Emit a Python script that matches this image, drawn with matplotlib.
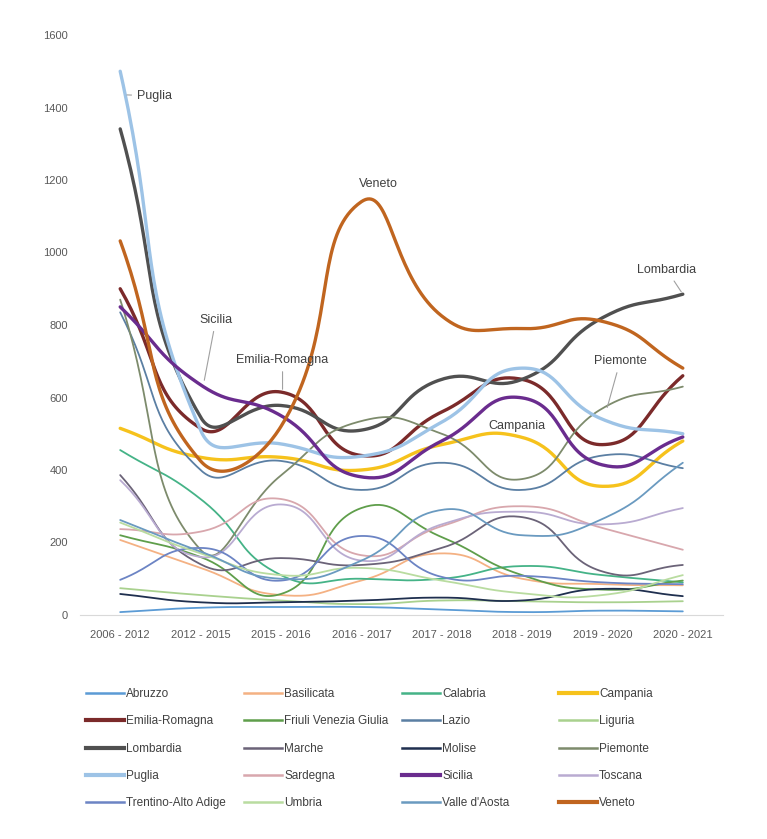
import numpy as np
import matplotlib
matplotlib.use("Agg")
from matplotlib import pyplot as plt
from matplotlib.lines import Line2D

plt.rcParams['font.family'] = ['Liberation Sans Narrow', 'Liberation Sans', 'DejaVu Sans']

# periodi
periodi = ['2006 - 2012', '2012 - 2015', '2015 - 2016', '2016 - 2017',
           '2017 - 2018', '2018 - 2019', '2019 - 2020', '2020 - 2021']

regioni = ['Abruzzo', 'Basilicata', 'Calabria', 'Campania',
           'Emilia-Romagna', 'Friuli Venezia Giulia', 'Lazio', 'Liguria',
           'Lombardia', 'Marche', 'Molise', 'Piemonte',
           'Puglia', 'Sardegna', 'Sicilia', 'Toscana',
           'Trentino-Alto Adige', 'Umbria', "Valle d'Aosta", 'Veneto']

# valori
abruzzo = [8, 20, 22, 22, 15, 8, 12, 10]
basilicata = [207, 130, 55, 95, 170, 100, 85, 82]
calabria = [455, 320, 110, 100, 100, 135, 110, 90]
campania = [515, 435, 435, 400, 470, 490, 355, 480]
emilia = [900, 515, 615, 440, 560, 650, 470, 660]
friuli = [220, 160, 58, 295, 215, 110, 70, 95]
lazio = [835, 400, 425, 345, 420, 345, 440, 405]
liguria = [74, 55, 40, 30, 40, 38, 35, 38]
lombardia = [1341, 546, 578, 510, 650, 650, 820, 885]
marche = [386, 140, 157, 138, 185, 270, 120, 138]
molise = [58, 35, 35, 40, 48, 40, 72, 52]
piemonte = [870, 180, 385, 535, 500, 375, 570, 630]
puglia = [1500, 510, 472, 438, 532, 681, 540, 500]
sardegna = [237, 230, 320, 165, 245, 300, 240, 180]
sicilia = [850, 635, 550, 381, 480, 599, 414, 491]
toscana = [372, 160, 305, 150, 250, 285, 250, 295]
trentino = [97, 185, 95, 218, 105, 108, 90, 85]
umbria = [255, 170, 110, 130, 95, 60, 55, 110]
valle = [262, 175, 100, 150, 290, 220, 265, 420]
veneto = [1032, 425, 520, 1140, 825, 790, 810, 681]

serie = [abruzzo, basilicata, calabria, campania, emilia, friuli, lazio, liguria,
         lombardia, marche, molise, piemonte, puglia, sardegna, sicilia, toscana,
         trentino, umbria, valle, veneto]

colori = ['#5b9bd5', '#f4b183', '#45b387', '#f6c21c',
          '#7b2a2a', '#5f9e4b', '#5b7fa3', '#a9d18e',
          '#505050', '#6b6378', '#1f2f4f', '#7d8b6c',
          '#9dc3e6', '#d8a7ad', '#6a2c8e', '#b9abd1',
          '#6c84c4', '#b9dca0', '#6a9ac0', '#c0651f']

spessi = {'Campania', 'Emilia-Romagna', 'Lombardia', 'Puglia', 'Sicilia', 'Veneto'}

# scala approssimativa in pixel (per la levigatura tipo Excel)
PX_X = 80.4
PX_Y = 0.3625


def smooth(y, n=40, t=0.5):
    # curve di Bezier con punti di controllo proporzionali alla lunghezza dei segmenti
    p = np.column_stack([np.arange(len(y)) * PX_X, np.asarray(y, float) * PX_Y])
    m = len(p)
    c_in = p.copy()
    c_out = p.copy()
    for i in range(m):
        p0 = p[max(i - 1, 0)]
        p2 = p[min(i + 1, m - 1)]
        d01 = np.hypot(*(p[i] - p0))
        d12 = np.hypot(*(p2 - p[i]))
        if d01 + d12 == 0:
            continue
        fa = t * d01 / (d01 + d12)
        fb = t * d12 / (d01 + d12)
        c_in[i] = p[i] - fa * (p2 - p0)
        c_out[i] = p[i] + fb * (p2 - p0)
    s = np.linspace(0, 1, n)[:, None]
    seg = []
    for i in range(m - 1):
        a, b, c, d = p[i], c_out[i], c_in[i + 1], p[i + 1]
        seg.append((1 - s) ** 3 * a + 3 * (1 - s) ** 2 * s * b + 3 * (1 - s) * s ** 2 * c + s ** 3 * d)
    out = np.vstack(seg)
    return out[:, 0] / PX_X, out[:, 1] / PX_Y


fig = plt.figure(figsize=(7.67, 8.39), dpi=100)
ax = fig.add_axes([80 / 767, 1 - 615 / 839, 643 / 767, 580 / 839])

handles = []
for nome, vals, col in zip(regioni, serie, colori):
    lw = 2.4 if nome in spessi else 1.3
    xs, ys = smooth(vals)
    ax.plot(xs, ys, color=col, lw=lw, solid_capstyle='round')
    handles.append(Line2D([], [], color=col, lw=lw + 0.6 if nome in spessi else 1.8))

ax.set_xlim(-0.5, len(periodi) - 0.5)
ax.set_ylim(0, 1600)
ax.set_xticks(range(len(periodi)))
ax.set_xticklabels(periodi)
ax.set_yticks(range(0, 1601, 200))
ax.tick_params(length=0, labelsize=8, colors='#595959', pad=11)
ax.tick_params(axis='y', pad=8.5)
for s in ['top', 'right', 'left']:
    ax.spines[s].set_visible(False)
ax.spines['bottom'].set_color('#d9d9d9')

# etichette
testo = dict(fontsize=9, color='#404040')
freccia = dict(arrowstyle='-', color='#a0a0a0', lw=0.8)
ax.annotate('Puglia', xy=(0.05, 1435), xytext=(0.21, 1432), va='center',
            arrowprops=freccia, **testo)
ax.text(3.21, 1190, 'Veneto', ha='center', va='center', **testo)
ax.annotate('Sicilia', xy=(1.04, 640), xytext=(1.19, 814), ha='center', va='center',
            arrowprops=freccia, **testo)
ax.annotate('Emilia-Romagna', xy=(2.02, 615), xytext=(2.02, 703), ha='center', va='center',
            arrowprops=freccia, **testo)
ax.text(4.94, 521, 'Campania', ha='center', va='center', **testo)
ax.annotate('Piemonte', xy=(6.05, 565), xytext=(6.22, 700), ha='center', va='center',
            arrowprops=freccia, **testo)
ax.annotate('Lombardia', xy=(7.0, 885), xytext=(6.8, 952), ha='center', va='center',
            arrowprops=freccia, **testo)

# legenda in 4 colonne
col_x = [86, 244, 402, 559]
for c in range(4):
    idx = list(range(c, len(regioni), 4))
    leg = fig.legend([handles[i] for i in idx], [regioni[i] for i in idx],
                     loc='upper left', bbox_to_anchor=(col_x[c] / 767, 1 - 688 / 839),
                     frameon=False, fontsize=8.5, handlelength=3.2, handletextpad=0.2,
                     labelspacing=1.3, borderaxespad=0, borderpad=0)
    for t in leg.get_texts():
        t.set_color('#404040')

fig.savefig('out.png', dpi=100, facecolor='white')
